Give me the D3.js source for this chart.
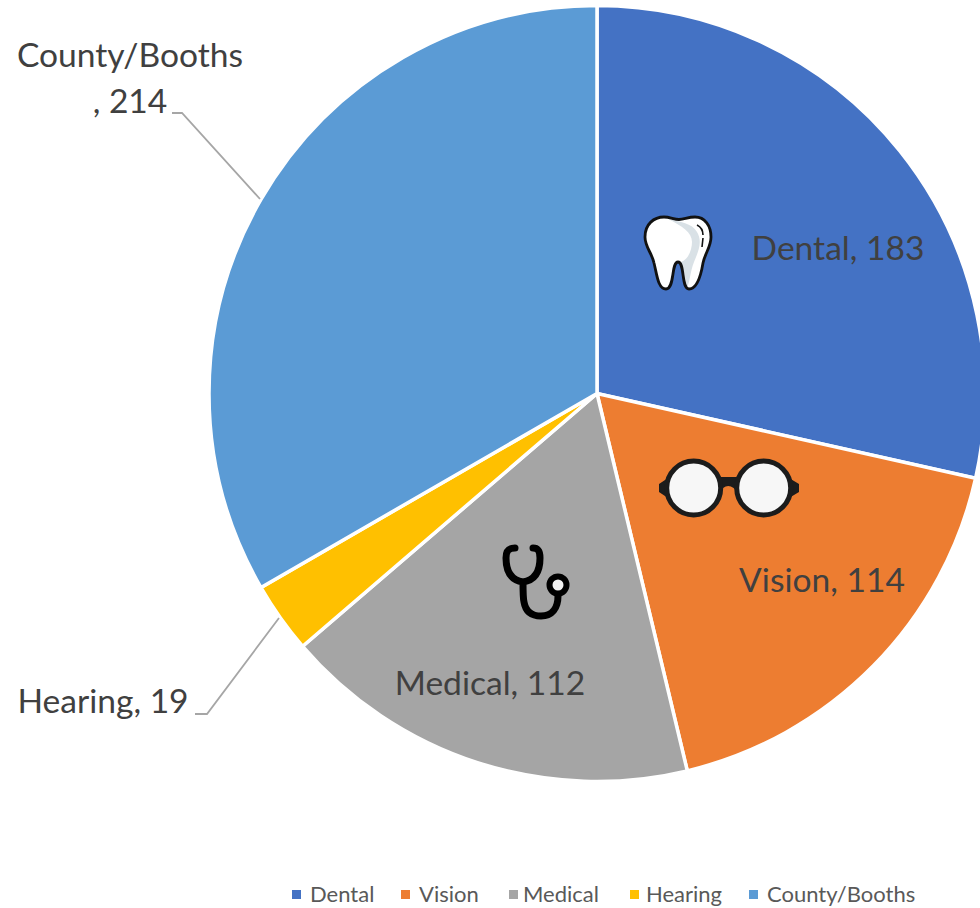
<!DOCTYPE html>
<html>
<head>
<meta charset="utf-8">
<script src="https://cdn.jsdelivr.net/npm/d3@7"></script>
<style>
  html, body { margin: 0; padding: 0; background: #fff; }
  svg { display: block; }
  text { font-family: Lato, "Open Sans", sans-serif; }
</style>
</head>
<body>
<svg id="chart" width="980" height="908"></svg>
<script>
const categories = ['Dental', 'Vision', 'Medical', 'Hearing', 'County/Booths']
const values = [183, 114, 112, 19, 214]
const colors = ['#4472c4', '#ed7d31', '#a5a5a5', '#ffc000', '#5b9bd5']

// label placement, by category order
const labelCentres = [[838, 260], [822, 592], [490, 695], [103, 713], [130, 67]]
const legendSwatchX = [292, 401, 509, 630, 749]
const legendTextX = [310, 419, 523, 646, 767]
const leaders = {
  3: [[195, 714], [207, 714], [279, 618]],
  4: [[172, 113], [182, 113], [260, 199]],
}

const TEXT_COLOR = '#404040'
const LABEL_SIZE = 33.6
const cx = 597
const cy = 393.5
const radius = 388

const svg = d3.select('#chart')
const g = svg.append('g').attr('transform', `translate(${cx}, ${cy})`)

const pie = d3.pie().sort(null).value((d) => d)
const arc = d3.arc().innerRadius(0).outerRadius(radius)

g.selectAll('path')
  .data(pie(values))
  .enter()
  .append('path')
  .attr('d', arc)
  .attr('fill', (d, i) => colors[i])
  .attr('stroke', '#fff')
  .attr('stroke-width', 3.5)

const line = d3.line()
Object.values(leaders).forEach((pts) => {
  svg.append('path')
    .attr('d', line(pts))
    .attr('fill', 'none')
    .attr('stroke', '#a6a6a6')
    .attr('stroke-width', 1.8)
})

categories.forEach((name, i) => {
  const [x, y] = labelCentres[i]
  const t = svg.append('text')
    .attr('x', x)
    .attr('text-anchor', 'middle')
    .attr('font-size', LABEL_SIZE)
    .attr('fill', TEXT_COLOR)
  if (name === 'County/Booths') {
    // this label wraps in the original
    t.append('tspan').attr('x', x).attr('y', y).text(name)
    t.append('tspan').attr('x', x).attr('y', y + 46).text(`, ${values[i]}`)
  } else {
    t.attr('y', y).text(`${name}, ${values[i]}`)
  }
})

// legend
const legend = svg.append('g').attr('class', 'legend')
categories.forEach((name, i) => {
  legend.append('rect')
    .attr('x', legendSwatchX[i])
    .attr('y', 890)
    .attr('width', 9)
    .attr('height', 9)
    .attr('fill', colors[i])
  legend.append('text')
    .attr('x', legendTextX[i])
    .attr('y', 902)
    .attr('font-size', 22)
    .attr('fill', '#595959')
    .text(name)
})

// tooth icon
const tooth = svg.append('g').attr('transform', 'translate(620, 190)')
const TOOTH_OUTLINE = 'M25 47 C25 34 34 27 44 27 C50 27 54 29.5 59 29.5 C64 29.5 68 27 75 27 '
  + 'C85 27 91 36 91 47 C91 57 85 63 83 73 C81 85 77 99 69 99 C61 99 65 72 58 72 '
  + 'C51 72 55 99 46 99 C38 99 37 85 34 73 C32 63 25 57 25 47 Z'
tooth.append('path')
  .attr('d', TOOTH_OUTLINE)
  .attr('fill', '#fff')
tooth.append('path')
  .attr('d', 'M48 29 C60 32 72 33 77 42 C83 52 78 62 74 72 C70 82 70 92 67 98 '
    + 'C62 94 64 78 61 72 C68 70 72 60 72 52 C72 42 62 36 48 29 Z')
  .attr('fill', '#d9e1e6')
tooth.append('path')
  .attr('d', TOOTH_OUTLINE)
  .attr('fill', 'none')
  .attr('stroke', '#111')
  .attr('stroke-width', 2.8)
tooth.append('path')
  .attr('d', 'M77 35 C81 37 83 41 83 45 M83 48 L82 57')
  .attr('fill', 'none')
  .attr('stroke', '#111')
  .attr('stroke-width', 1.6)

// glasses icon
const glasses = svg.append('g').attr('class', 'glasses')
glasses.append('path')
  .attr('d', 'M714 477 L743 477 L739 494 Q728 478 718 494 Z')
  .attr('fill', '#1c1c1c')
glasses.append('path')
  .attr('d', 'M668 478 L659 484 L659 492 L668 498 Z M789 478 L799 484 L799 492 L789 498 Z')
  .attr('fill', '#1c1c1c')
;[693.7, 763.7].forEach((x) => {
  glasses.append('circle')
    .attr('cx', x)
    .attr('cy', 488)
    .attr('r', 27)
    .attr('fill', '#f7f7f7')
    .attr('stroke', '#1c1c1c')
    .attr('stroke-width', 5)
})

// stethoscope icon
const scope = svg.append('g').attr('transform', 'translate(480, 530)')
scope.append('path')
  .attr('d', 'M35 18 C28 18 26 21 26 28 C26 40 30 50 43 52 C56 50 60 40 60 28 C60 21 58 18 53 18 '
    + 'M43 52 C43 60 43 68 44 72 C46 84 54 86 61 86 C72 86 78 78 78 66')
  .attr('fill', 'none')
  .attr('stroke', '#000')
  .attr('stroke-width', 7)
  .attr('stroke-linecap', 'round')
scope.append('circle')
  .attr('cx', 78)
  .attr('cy', 55)
  .attr('r', 8.5)
  .attr('fill', '#f2f2f2')
  .attr('stroke', '#000')
  .attr('stroke-width', 6)
</script>
</body>
</html>
